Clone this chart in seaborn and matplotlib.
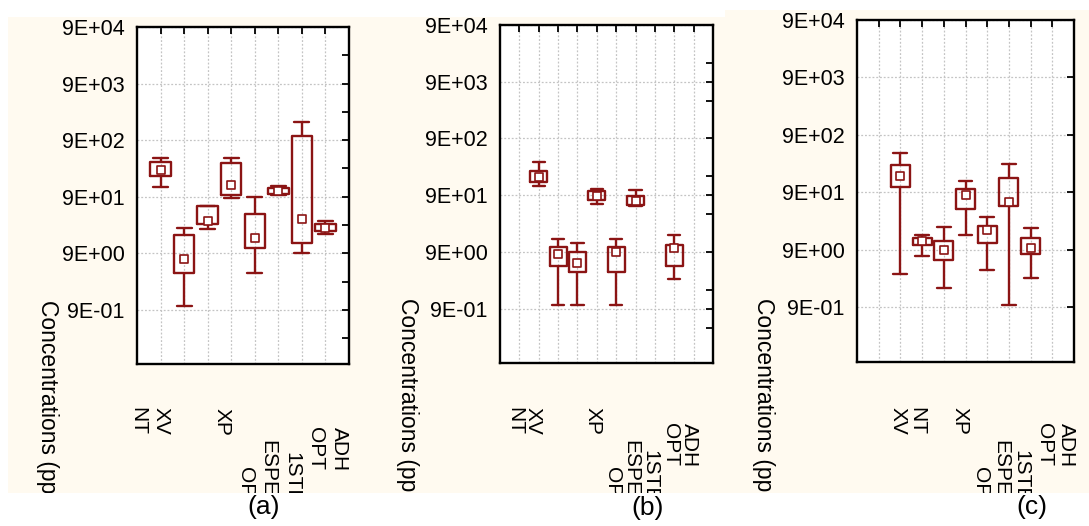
import pandas as pd
import matplotlib
matplotlib.use("Agg")
import matplotlib.pyplot as plt
import matplotlib.transforms as mtransforms
from matplotlib.patches import Rectangle
from matplotlib.ticker import FixedLocator, FuncFormatter
import seaborn as sns

# ---- data (box = min, q1, centre, q3, max) ----
# panel (a): 8 slots, all used
slots_a = ["NT", "XV", "XP", "OP", "ESPE", "1STEP", "OPT", "ADH"]
names_a = ["NT", "XV", "XP", "OP", "ESPE", "1STEP", "OPT", "ADH"]
lo_a = [133, 1.03, 23.9, 84, 4.0, 96, 9.0, 20.0]
q1_a = [206, 4.0, 29, 96, 11.0, 99, 13.9, 22.3]
mid_a = [269, 7.0, 33, 144, 16.4, 113, 36, 25.6]
q3_a = [373, 18.7, 62, 358, 44, 130, 1057, 30]
hi_a = [439, 25.2, 62, 439, 88, 139, 1900, 33.4]

# panel (b): 10 slots, 7 used
slots_b = [" ", "NT", "XV", "XP", "OP", "ESPE", "1STEP", "  ", "ADH", "   "]
names_b = ["NT", "XV", "XP", "OP", "ESPE", "1STEP", "ADH"]
lo_b = [133, 1.03, 1.03, 61.9, 1.03, 57.1, 3.02]
q1_b = [151, 5.06, 3.96, 74.8, 3.96, 61.0, 5.06]
mid_b = [192, 8.3, 5.77, 88, 9.0, 70.2, 10.6]
q3_b = [236, 11.0, 9.0, 105, 11.0, 85.8, 11.8]
hi_b = [343, 15.3, 13.0, 118, 15.3, 112, 17.9]

# panel (c): 9 slots, 7 used
slots_c = [" ", "XV", "NT", "XP", "OP", "ESPE", "1STEP", "ADH", "  "]
names_c = ["XV", "NT", "XP", "OP", "ESPE", "1STEP", "ADH"]
lo_c = [3.43, 6.89, 1.95, 16.4, 3.92, 0.98, 2.92]
q1_c = [109, 10.7, 5.87, 45.5, 11.8, 52.2, 7.64]
mid_c = [174, 12.7, 8.76, 80.1, 19.6, 61.3, 9.75]
q3_c = [271, 14.5, 12.7, 103, 23.3, 159, 14.5]
hi_c = [440, 16.4, 22.4, 143, 33.0, 279, 21.3]

yticks = [0.9, 9, 90, 900, 9000, 90000]
words = ["NT", "XV", "XP", "OP", "ESPE", "1STEP", "OPT", "ADH"]
ylabel = "Concentrations (ppb)"
captions = ["(a)", "(b)", "(c)"]

# ---- layout (pixels of a 1089x526 picture) ----
W, H = 1089, 526
RED = "#8B1414"
CREAM = "#FFFAF0"
axes_px = [(137, 27, 349, 364), (500, 25, 713, 363), (857, 20, 1074, 362)]
word_x = [[-0.98, 0.0, 2.63, 3.6, 4.54, 5.56, 6.56, 7.58],
          [-0.23, 0.73, 3.78, 4.81, 5.77, 6.75, 7.78, 8.8],
          [1.74, 0.91, 3.75, 4.69, 5.64, 6.56, 7.66, 8.65]]
word_top = [[407, 407, 408, 467, 440, 452, 427, 427],
            [407, 407, 407, 467, 440, 450, 423, 423],
            [407, 407, 407, 467, 440, 450, 423, 423]]
ylabel_px = [(47, 300), (408, 298), (763, 298)]
caption_px = [(264, 507), (648, 508), (1032, 507)]


def long_table(names, lo, q1, mid, q3, hi):
    rows = []
    for i, n in enumerate(names):
        for v in (lo[i], q1[i], mid[i], q3[i], hi[i]):
            rows.append((n, v))
    return pd.DataFrame(rows, columns=["material", "conc"])


def rect(x0, y0, x1, y1, color, z):
    return Rectangle((x0 / W, 1 - y1 / H), (x1 - x0) / W, (y1 - y0) / H,
                     transform=fig.transFigure, facecolor=color,
                     edgecolor="none", zorder=z)


sns.set_theme(style="white")
plt.rcParams["font.family"] = ["Liberation Sans", "DejaVu Sans"]

fig = plt.figure(figsize=(W / 100, H / 100), dpi=100)
fig.patch.set_facecolor("white")

# cream backgrounds of the three pasted images
fig.add_artist(rect(8, 17, 725, 493, CREAM, -1))
fig.add_artist(rect(725, 10, 1089, 493, CREAM, -1))

panels = [
    (slots_a, long_table(names_a, lo_a, q1_a, mid_a, q3_a, hi_a), names_a, mid_a),
    (slots_b, long_table(names_b, lo_b, q1_b, mid_b, q3_b, hi_b), names_b, mid_b),
    (slots_c, long_table(names_c, lo_c, q1_c, mid_c, q3_c, hi_c), names_c, mid_c),
]

minor_ticks = [
    [9 * 10 ** (k + 0.5) for k in range(-2, 4)],
    [9e4 * 10 ** (-2 * k / 3) for k in (1, 2, 4, 5, 7, 8)],
    [],
]

for i, (slots, df, names, mids) in enumerate(panels):
    x0, y0, x1, y1 = axes_px[i]
    ax = fig.add_axes([x0 / W, 1 - y1 / H, (x1 - x0) / W, (y1 - y0) / H])
    ax.set_facecolor("white")
    ax.set_yscale("log")

    sns.boxplot(data=df, x="material", y="conc", order=slots, fill=False,
                color=RED, linewidth=1.7, width=0.87, whis=(0, 100),
                showfliers=False, medianprops={"linewidth": 0},
                capwidths=0.64, ax=ax)
    sns.stripplot(x=names, y=mids, order=slots, jitter=False, marker="s",
                  size=6, color="white", edgecolor=RED, linewidth=1.2,
                  ax=ax, zorder=4)

    ax.set_xlim(-1, len(slots))
    ax.set_ylim(0.099, 90000)
    ax.yaxis.set_major_locator(FixedLocator(yticks))
    ax.yaxis.set_major_formatter(FuncFormatter(lambda v, _: f"{v:.0E}"))
    ax.yaxis.set_minor_locator(FixedLocator(minor_ticks[i]))
    ax.set_xlabel("")
    ax.set_ylabel("")

    ax.grid(True, which="major", color="#c4c4c4",
            linestyle=(0, (1.5, 1.5)), linewidth=0.9)
    ax.set_axisbelow(True)
    for sp in ax.spines.values():
        sp.set_color("black")
        sp.set_linewidth(1.7)

    ax.tick_params(axis="both", which="both", direction="in", length=5,
                   width=1.3, colors="black", top=True, right=True,
                   labelbottom=False, labelsize=15.5, pad=9)
    ax.tick_params(axis="y", which="minor", left=False, right=True)
    ax.tick_params(axis="x", which="minor", bottom=False, top=False)

    # the jumbled category labels under each panel
    trans = mtransforms.blended_transform_factory(ax.transData, fig.transFigure)
    for w, xv, top in zip(words, word_x[i], word_top[i]):
        ax.text(xv, 1 - top / H, w, transform=trans, rotation=-90,
                ha="center", va="top", fontsize=15, color="black",
                clip_on=False)

    lx, ly = ylabel_px[i]
    fig.text(lx / W, 1 - ly / H, ylabel, rotation=-90, ha="center",
             va="top", fontsize=16.5, color="black")

# white margins that cut off the overflowing text
fig.add_artist(rect(0, 0, 725, 17, "white", 5))
fig.add_artist(rect(725, 0, 1089, 10, "white", 5))
fig.add_artist(rect(0, 493, 1089, 526, "white", 5))
fig.add_artist(rect(0, 0, 8, 526, "white", 5))

for (cx, cy), cap in zip(caption_px, captions):
    fig.text(cx / W, 1 - cy / H, cap, ha="center", va="center",
             fontsize=19, color="black", zorder=6)

fig.savefig("out.png", dpi=100)
